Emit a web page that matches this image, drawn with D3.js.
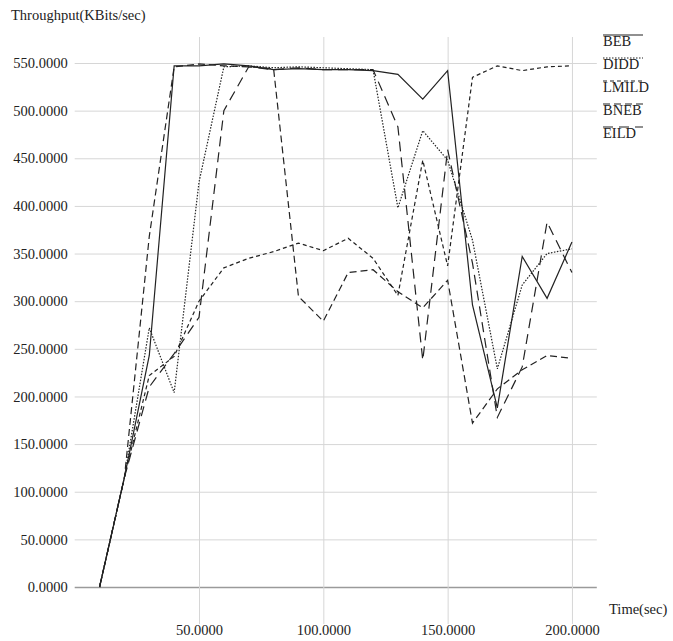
<!DOCTYPE html>
<html>
<head>
<meta charset="utf-8">
<script src="https://cdn.jsdelivr.net/npm/d3@7"></script>
<style>
  html, body { margin: 0; padding: 0; background: #fff; }
  svg text { font-family: "Liberation Serif", "DejaVu Serif", serif; fill: #222; }
</style>
</head>
<body>
<svg id="chart" width="673" height="641"></svg>
<script>
// Simulation time (sec)
const times = [10, 20, 30, 40, 50, 60, 70, 80, 90, 100, 110, 120, 130, 140, 150, 160, 170, 180, 190, 200];

// Throughput per backoff scheme (KBits/sec)
const beb   = [0, 115, 243, 547, 547, 549, 547, 543, 544, 543, 543, 542, 538, 512, 542, 296, 188, 347, 303, 362];
const didd  = [0, 115, 272, 204, 425, 546, 547, 545, 546, 545, 544, 543, 398, 479, 448, 364, 229, 317, 350, 355];
const lmild = [0, 115, 222, 242, 300, 335, 345, 352, 361, 353, 366, 345, 306, 448, 337, 535, 547, 542, 546, 547];
const bneb  = [0, 115, 368, 546, 549, 547, 546, 544, 305, 279, 330, 333, 310, 293, 322, 172, 208, 228, 243, 240];
const eild  = [0, 115, 210, 245, 283, 500, 546, 543, 545, 543, 543, 543, 483, 238, 459, 340, 178, 231, 383, 330];

const seriesNames = ["BEB", "DIDD", "LMILD", "BNEB", "EILD"];
const seriesValues = [beb, didd, lmild, bneb, eild];

// Axis ticks
const yTicks = [0, 50, 100, 150, 200, 250, 300, 350, 400, 450, 500, 550];
const xTicks = [50, 100, 150, 200];

// Stroke patterns per series
const dashes = ["none", "1.5,1.5", "4,3", "7,4", "10,6"];

const svg = d3.select("#chart");

const x = d3.scaleLinear().domain([0, 210]).range([74.7, 596.8]);
const y = d3.scaleLinear().domain([0, 550]).range([587, 63]);
const plotTop = 37, plotBottom = 624;

// Horizontal grid lines with right-aligned value labels
const yAxis = d3.axisLeft(y)
  .tickValues(yTicks)
  .tickSize(-(x(210) - x(0)))
  .tickPadding(7)
  .tickFormat(d3.format(".4f"));
const gy = svg.append("g").attr("transform", `translate(${x(0)},0)`).call(yAxis);
gy.select(".domain").remove();
gy.selectAll(".tick line").attr("stroke", "#d6d6d6").attr("stroke-width", 1);
gy.selectAll(".tick text").attr("font-size", 14.5).attr("fill", "#222")
  .style("font-family", '"Liberation Serif", serif');
gy.selectAll(".tick").filter(d => d === 0).select("line")
  .attr("stroke", "#9a9a9a").attr("stroke-width", 1.6);

// Vertical grid lines with time labels
const xAxis = d3.axisBottom(x)
  .tickValues(xTicks)
  .tickSize(-(plotBottom - plotTop))
  .tickPadding(0)
  .tickFormat(d3.format(".4f"));
const gx = svg.append("g").attr("transform", `translate(0,${plotBottom})`).call(xAxis);
gx.select(".domain").remove();
gx.selectAll(".tick line").attr("stroke", "#d6d6d6").attr("stroke-width", 1);
gx.selectAll(".tick text").attr("font-size", 14.5).attr("fill", "#222")
  .attr("y", 1).style("font-family", '"Liberation Serif", serif');

// Axis titles
svg.append("text").attr("x", 11).attr("y", 20).attr("font-size", 14.5).text("Throughput(KBits/sec)");
svg.append("text").attr("x", 609).attr("y", 614).attr("font-size", 14.5).text("Time(sec)");

// Series lines
const line = d3.line().x((d, i) => x(times[i])).y(d => y(d));
svg.append("g").selectAll("path")
  .data(seriesValues)
  .join("path")
  .attr("d", d => line(d))
  .attr("fill", "none")
  .attr("stroke", "#222")
  .attr("stroke-width", 1.2)
  .attr("stroke-linejoin", "miter")
  .attr("stroke-dasharray", (d, i) => dashes[i]);

// Legend: stroke sample drawn along the top of each label
const legend = svg.append("g").selectAll("g")
  .data(seriesNames)
  .join("g")
  .attr("transform", (d, i) => `translate(603,${46 + i * 23})`);
legend.append("text").attr("font-size", 14.5).text(d => d);
legend.append("line")
  .attr("x1", 0).attr("x2", 40).attr("y1", -11).attr("y2", -11)
  .attr("stroke", "#222").attr("stroke-width", 1.2)
  .attr("stroke-dasharray", (d, i) => dashes[i]);
</script>
</body>
</html>
